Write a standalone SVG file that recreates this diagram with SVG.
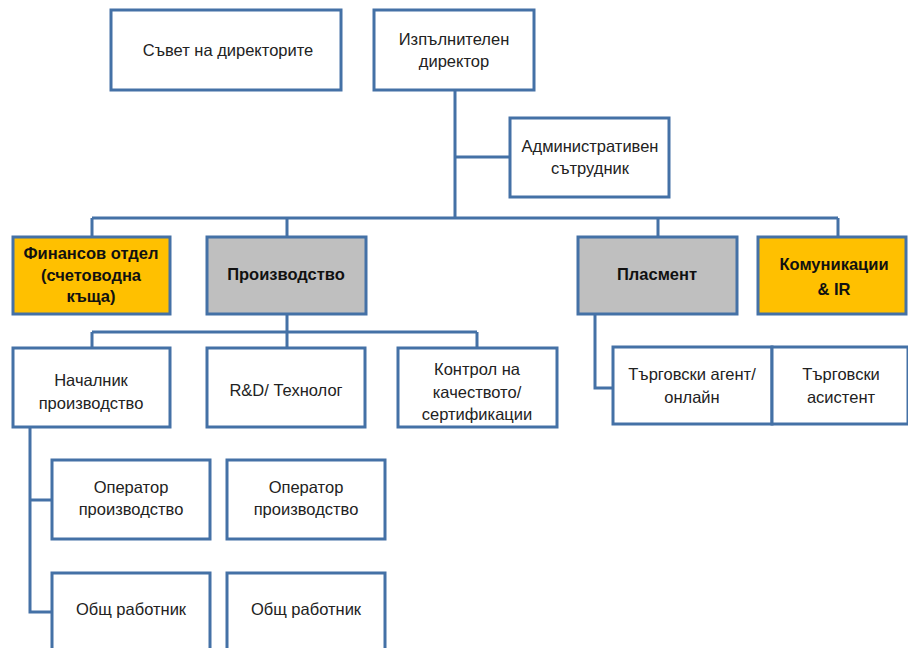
<svg xmlns="http://www.w3.org/2000/svg" width="908" height="648" viewBox="0 0 908 648">
<style>
.box{fill:#ffffff;stroke:#4471A6;stroke-width:3}
.gold{fill:#FFC000;stroke:#4471A6;stroke-width:3}
.gray{fill:#BFBFBF;stroke:#4471A6;stroke-width:3}
.t{font-family:"Liberation Sans",Arial,sans-serif;font-size:16.5px;fill:#222;text-anchor:middle}
.b{font-family:"Liberation Sans",Arial,sans-serif;font-size:16.5px;font-weight:bold;fill:#111;text-anchor:middle}
.c{fill:none;stroke:#4471A6;stroke-width:3}
</style>
<rect width="908" height="648" fill="#ffffff"/>
<g id="connectors">
<path class="c" d="M455 90V218M455 157H510M92 218H838M92 218V237M287 218V237M658 218V237M838 218V237"/>
<path class="c" d="M287 314V332M92 332H477M92 332V348M287 332V348M477 332V348"/>
<path class="c" d="M30 427V612H52M30 500H52"/>
<path class="c" d="M595 314V388H613"/>
</g>
<g id="board"><rect class="box" x="111" y="10" width="230" height="80"/><text class="t" x="228" y="56">Съвет на директорите</text></g>
<g id="ceo"><rect class="box" x="374" y="10" width="160" height="80"/><text class="t" x="454" y="45">Изпълнителен</text><text class="t" x="454" y="67">директор</text></g>
<g id="admin"><rect class="box" x="510" y="118" width="159" height="79"/><text class="t" x="590" y="152">Административен</text><text class="t" x="590" y="174">сътрудник</text></g>
<g id="finance"><rect class="gold" x="13" y="237" width="157" height="77"/><text class="b" x="91" y="259">Финансов  отдел</text><text class="b" x="91" y="281">(счетоводна</text><text class="b" x="91" y="302">къща)</text></g>
<g id="production"><rect class="gray" x="207" y="237" width="159" height="77"/><text class="b" x="286" y="280">Производство</text></g>
<g id="placement"><rect class="gray" x="578" y="237" width="159" height="77"/><text class="b" x="657" y="280">Пласмент</text></g>
<g id="comms"><rect class="gold" x="758" y="237" width="148" height="77"/><text class="b" x="834" y="270">Комуникации</text><text class="b" x="834" y="295">&amp; IR</text></g>
<g id="head"><rect class="box" x="13" y="348" width="157" height="79"/><text class="t" x="91" y="386">Началник</text><text class="t" x="91" y="409">производство</text></g>
<g id="rd"><rect class="box" x="207" y="348" width="158" height="79"/><text class="t" x="286" y="396">R&amp;D/ Технолог</text></g>
<g id="qc"><rect class="box" x="398" y="348" width="159" height="79"/><text class="t" x="477" y="375">Контрол на</text><text class="t" x="477" y="398">качеството/</text><text class="t" x="477" y="420">сертификации</text></g>
<g id="agent"><rect class="box" x="613" y="347" width="159" height="77"/><text class="t" x="692" y="380">Търговски  агент/</text><text class="t" x="692" y="403">онлайн</text></g>
<g id="assistant"><rect class="box" x="772" y="347" width="136" height="77"/><text class="t" x="841" y="380">Търговски</text><text class="t" x="841" y="403">асистент</text></g>
<g id="op1"><rect class="box" x="52" y="460" width="158" height="79"/><text class="t" x="131" y="493">Оператор</text><text class="t" x="131" y="515">производство</text></g>
<g id="op2"><rect class="box" x="227" y="460" width="158" height="79"/><text class="t" x="306" y="493">Оператор</text><text class="t" x="306" y="515">производство</text></g>
<g id="worker1"><rect class="box" x="52" y="573" width="158" height="85"/><text class="t" x="131" y="615">Общ работник</text></g>
<g id="worker2"><rect class="box" x="227" y="573" width="158" height="85"/><text class="t" x="306" y="615">Общ работник</text></g>
</svg>
